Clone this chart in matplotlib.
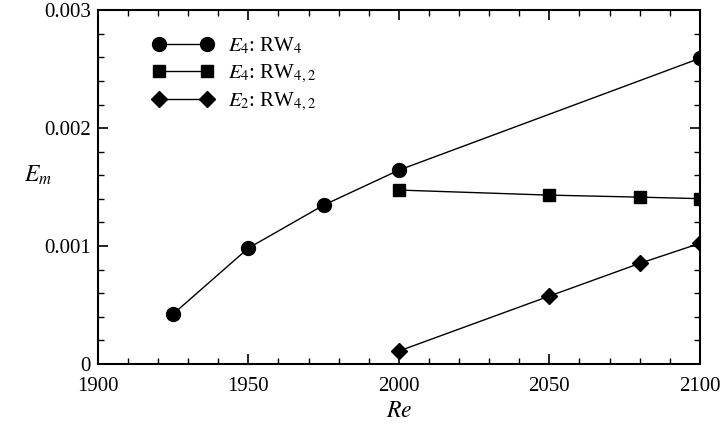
import matplotlib
matplotlib.use("Agg")
import matplotlib.pyplot as plt
from matplotlib.ticker import MultipleLocator, FixedFormatter, FixedLocator

plt.rcParams['font.family'] = ['Liberation Serif', 'DejaVu Serif']
plt.rcParams['mathtext.fontset'] = 'stix'

re_rw4 = [1925, 1950, 1975, 2000, 2100]
e4_rw4 = [0.000424, 0.000983, 0.001347, 0.001644, 0.002592]

re_rw42 = [2000, 2050, 2080, 2100]
e4_rw42 = [0.001475, 0.001432, 0.001415, 0.001402]
e2_rw42 = [0.000110, 0.000576, 0.000853, 0.001023]

xticks = [1900, 1950, 2000, 2050, 2100]
yticks = [0, 0.001, 0.002, 0.003]
ytick_labels = ['0', '0.001', '0.002', '0.003']

fig = plt.figure(figsize=(7.2, 4.25), dpi=100)
ax = fig.add_axes([0.136, 0.1435, 0.836, 0.8325])

ax.plot(re_rw4, e4_rw4, '-', color='black', lw=1.0, marker='o', ms=10,
        label='$E_4$: RW$_4$')
ax.plot(re_rw42, e4_rw42, '-', color='black', lw=1.0, marker='s', ms=9,
        label='$E_4$: RW$_{4,2}$')
ax.plot(re_rw42, e2_rw42, '-', color='black', lw=1.0, marker='D', ms=8,
        label='$E_2$: RW$_{4,2}$')

ax.set_xlim(1900, 2100)
ax.set_ylim(0, 0.003)
ax.xaxis.set_major_locator(FixedLocator(xticks))
ax.xaxis.set_minor_locator(MultipleLocator(10))
ax.yaxis.set_major_locator(FixedLocator(yticks))
ax.yaxis.set_major_formatter(FixedFormatter(ytick_labels))
ax.yaxis.set_minor_locator(MultipleLocator(0.0002))
ax.tick_params(which='both', direction='in', top=True, right=True, labelsize=15)
ax.tick_params(which='major', length=7, width=1.2)
ax.tick_params(which='minor', length=4, width=1.0)
ax.tick_params(axis='x', pad=9)
ax.tick_params(axis='y', pad=5)
for s in ax.spines.values():
    s.set_linewidth(1.5)

ax.set_xlabel('$Re$', fontsize=17, labelpad=4)
ax.set_ylabel('$E_m$', fontsize=17, rotation=0)
ax.yaxis.set_label_coords(-0.1, 0.5)

ax.legend(loc='upper left', bbox_to_anchor=(0.06, 0.98), frameon=False,
          numpoints=2, fontsize=15, handlelength=2.9, handletextpad=0.7,
          labelspacing=0.3)

fig.savefig('out.png', dpi=100)
